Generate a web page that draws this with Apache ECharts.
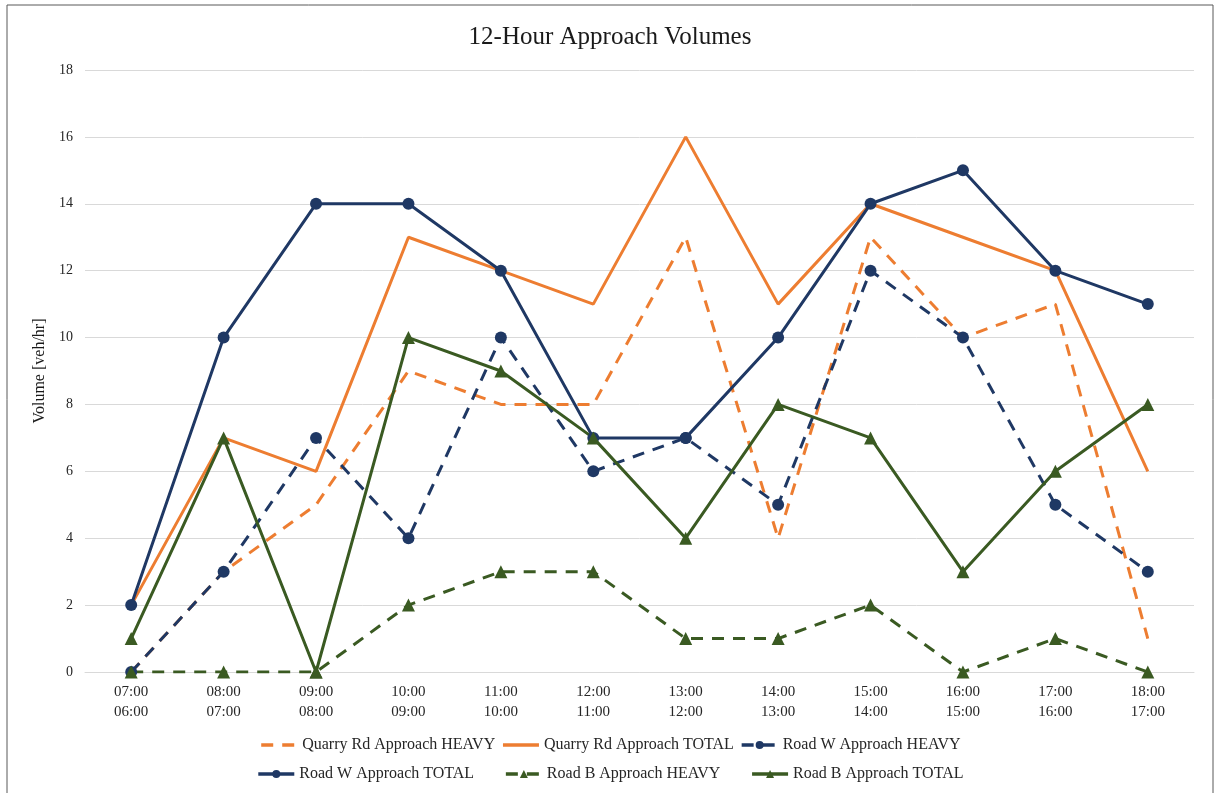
<!DOCTYPE html>
<html>
<head>
<meta charset="utf-8">
<script src="https://cdn.jsdelivr.net/npm/echarts@6/dist/echarts.min.js"></script>
<style>
  html, body { margin: 0; padding: 0; background: #fff; }
  #chart { width: 1220px; height: 793px; }
</style>
</head>
<body>
<div id="chart"></div>
<script>
// periods: hour end / hour start
var hours = ['07:00\n06:00', '08:00\n07:00', '09:00\n08:00', '10:00\n09:00', '11:00\n10:00', '12:00\n11:00',
             '13:00\n12:00', '14:00\n13:00', '15:00\n14:00', '16:00\n15:00', '17:00\n16:00', '18:00\n17:00'];

var quarryHeavy = [0, 3, 5, 9, 8, 8, 13, 4, 13, 10, 11, 1];
var quarryTotal = [2, 7, 6, 13, 12, 11, 16, 11, 14, 13, 12, 6];
var roadWHeavy  = [0, 3, 7, 4, 10, 6, 7, 5, 12, 10, 5, 3];
var roadWTotal  = [2, 10, 14, 14, 12, 7, 7, 10, 14, 15, 12, 11];
var roadBHeavy  = [0, 0, 0, 2, 3, 3, 1, 1, 2, 0, 1, 0];
var roadBTotal  = [1, 7, 0, 10, 9, 7, 4, 8, 7, 3, 6, 8];

var orange = '#ED7D31', navy = '#1F3864', green = '#3A5A22';
var font = 'Liberation Serif';
var dash = [12, 9];

function line(name, data, color, dashed, symbol, size) {
	return {
		name: name,
		type: 'line',
		data: data,
		symbol: symbol,
		symbolSize: size,
		showSymbol: symbol !== 'none',
		color: color,
		lineStyle: { color: color, width: 3, type: dashed ? dash : 'solid' },
		itemStyle: { color: color },
		z: 2
	};
}

var legendText = { fontFamily: font, fontSize: 16, color: '#262626' };

var chart = echarts.init(document.getElementById('chart'));
chart.setOption({
	animation: false,
	textStyle: { fontFamily: font },
	graphic: [{
		type: 'rect',
		shape: { x: 7, y: 5, width: 1206, height: 800 },
		style: { fill: 'none', stroke: '#595959', lineWidth: 1 }
	}],
	title: {
		text: '12-Hour Approach Volumes',
		left: 'center',
		top: 20,
		textStyle: { fontFamily: font, fontSize: 25, fontWeight: 'normal', color: '#1a1a1a' }
	},
	legend: [{
		data: [
			{ name: 'Quarry Rd Approach HEAVY', itemStyle: { opacity: 0 } },
			{ name: 'Quarry Rd Approach TOTAL', itemStyle: { opacity: 0 } },
			'Road W Approach HEAVY'
		],
		left: 'center',
		top: 732,
		itemWidth: 36,
		itemHeight: 10,
		itemGap: 6,
		lineStyle: { width: 3.5 },
		textStyle: legendText
	}, {
		data: ['Road W Approach TOTAL', 'Road B Approach HEAVY', 'Road B Approach TOTAL'],
		left: 'center',
		top: 761,
		itemWidth: 36,
		itemHeight: 10,
		itemGap: 30,
		lineStyle: { width: 3.5 },
		textStyle: legendText
	}],
	grid: { left: 85, right: 26, top: 70, bottom: 121 },
	xAxis: {
		type: 'category',
		data: hours,
		boundaryGap: true,
		axisLine: { lineStyle: { color: '#d9d9d9', width: 1 } },
		axisTick: { show: false },
		axisLabel: { color: '#262626', fontSize: 15, fontFamily: font, lineHeight: 20, margin: 10 }
	},
	yAxis: {
		type: 'value',
		min: 0,
		max: 18,
		interval: 2,
		name: 'Volume [veh/hr]',
		nameLocation: 'middle',
		nameGap: 35,
		nameTextStyle: { fontFamily: font, fontSize: 16, color: '#1a1a1a' },
		axisLine: { show: false },
		axisTick: { show: false },
		axisLabel: { color: '#262626', fontSize: 14, fontFamily: font, margin: 12 },
		splitLine: { lineStyle: { color: '#d9d9d9', width: 1 } }
	},
	series: [
		line('Quarry Rd Approach HEAVY', quarryHeavy, orange, true, 'none', 0),
		line('Quarry Rd Approach TOTAL', quarryTotal, orange, false, 'none', 0),
		line('Road W Approach HEAVY', roadWHeavy, navy, true, 'circle', 12),
		line('Road W Approach TOTAL', roadWTotal, navy, false, 'circle', 12),
		line('Road B Approach HEAVY', roadBHeavy, green, true, 'triangle', 13),
		line('Road B Approach TOTAL', roadBTotal, green, false, 'triangle', 13)
	]
});
</script>
</body>
</html>
